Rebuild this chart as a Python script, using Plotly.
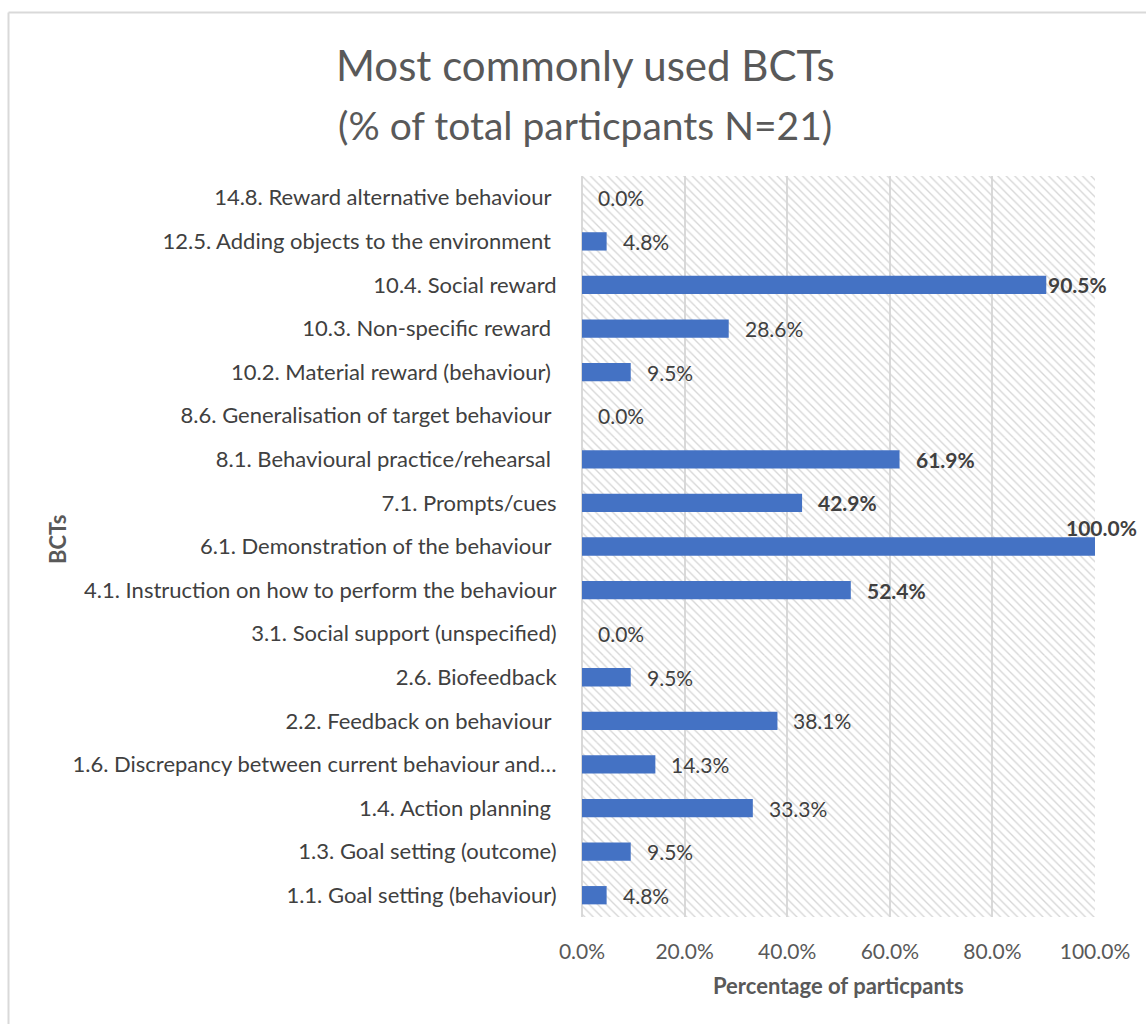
import plotly.graph_objects as go

NB = "\u00a0"
categories = [
    "14.8. Reward alternative behaviour" + NB,
    "12.5. Adding objects to the environment" + NB,
    "10.4. Social reward",
    "10.3. Non-specific reward" + NB,
    "10.2. Material reward (behaviour)" + NB,
    "8.6. Generalisation of target behaviour" + NB,
    "8.1. Behavioural practice/rehearsal" + NB,
    "7.1. Prompts/cues",
    "6.1. Demonstration of the behaviour" + NB,
    "4.1. Instruction on how to perform the behaviour",
    "3.1. Social support (unspecified)",
    "2.6. Biofeedback",
    "2.2. Feedback on behaviour" + NB,
    "1.6. Discrepancy between current behaviour and\u2026",
    "1.4. Action planning" + NB,
    "1.3. Goal setting (outcome)",
    "1.1. Goal setting (behaviour)",
]
values = [0.0, 4.8, 90.5, 28.6, 9.5, 0.0, 61.9, 42.9, 100.0, 52.4, 0.0, 9.5, 38.1, 14.3, 33.3, 9.5, 4.8]
bold_labels = [False, False, True, False, False, False, True, True, True, True, False, False, False, False, False, False, False]
x_ticks = [0, 20, 40, 60, 80, 100]
x_tick_labels = ["0.0%", "20.0%", "40.0%", "60.0%", "80.0%", "100.0%"]

FONT = "Lato"
W, H = 1146, 1024
L, R, T, B = 582, 1095, 176, 917

fig = go.Figure()

# hatched plot-area background
fig.add_trace(go.Bar(
    y=categories, x=[100] * len(categories), orientation="h", width=1,
    marker=dict(color="#d6d6d6", line=dict(width=0),
                pattern=dict(shape="\\", size=6, solidity=0.22, fillmode="replace")),
    hoverinfo="skip", showlegend=False,
))

fig.add_trace(go.Bar(
    y=categories, x=values, orientation="h", width=0.42,
    marker=dict(color="#4472C4", line=dict(width=0)),
    showlegend=False,
))

LBL = 21
annotations = []
for cat, v, b in zip(categories, values, bold_labels):
    txt = f"{v:.1f}%"
    if b:
        txt = f"<b>{txt}</b>"
    if v >= 100:
        annotations.append(dict(x=v, y=cat, xref="x", yref="y", text=txt, showarrow=False,
                                xanchor="center", yanchor="middle", xshift=6, yshift=19,
                                font=dict(family=FONT, size=LBL, color="#404040")))
    elif v > 85:
        annotations.append(dict(x=v, y=cat, xref="x", yref="y", text=txt, showarrow=False,
                                xanchor="left", yanchor="middle", xshift=0,
                                font=dict(family=FONT, size=LBL, color="#404040")))
    else:
        annotations.append(dict(x=v, y=cat, xref="x", yref="y", text=txt, showarrow=False,
                                xanchor="left", yanchor="middle", xshift=14,
                                font=dict(family=FONT, size=LBL, color="#404040")))

# title
annotations.append(dict(x=(585 - L) / (R - L), y=(B - 65) / (B - T), xref="paper", yref="paper",
                        text="Most commonly used BCTs", showarrow=False, xanchor="center", yanchor="middle",
                        font=dict(family=FONT, size=42, color="#595959")))
annotations.append(dict(x=(585 - L) / (R - L), y=(B - 125) / (B - T), xref="paper", yref="paper",
                        text="(% of total particpants N=21)", showarrow=False, xanchor="center", yanchor="middle",
                        font=dict(family=FONT, size=39, color="#595959")))
# axis titles
annotations.append(dict(x=(838 - L) / (R - L), y=(B - 985) / (B - T), xref="paper", yref="paper",
                        text="<b>Percentage of particpants</b>", showarrow=False, xanchor="center", yanchor="middle",
                        font=dict(family=FONT, size=22, color="#595959")))
annotations.append(dict(x=(57 - L) / (R - L), y=(B - 540) / (B - T), xref="paper", yref="paper",
                        text="<b>BCTs</b>", showarrow=False, xanchor="center", yanchor="middle", textangle=-90,
                        font=dict(family=FONT, size=22, color="#595959")))

shapes = [
    dict(type="line", xref="paper", yref="paper",
         x0=(8.5 - L) / (R - L), x1=(8.5 - L) / (R - L), y0=(B - 12.5) / (B - T), y1=(B - 1030) / (B - T),
         line=dict(color="#d9d9d9", width=2)),
    dict(type="line", xref="paper", yref="paper",
         x0=(8.5 - L) / (R - L), x1=(1150 - L) / (R - L), y0=(B - 12.5) / (B - T), y1=(B - 12.5) / (B - T),
         line=dict(color="#d9d9d9", width=2)),
]

fig.update_layout(
    width=W, height=H,
    margin=dict(l=L, r=W - R, t=T, b=H - B, autoexpand=False),
    barmode="overlay",
    paper_bgcolor="white", plot_bgcolor="white",
    annotations=annotations, shapes=shapes,
    font=dict(family=FONT),
    xaxis=dict(range=[0, 100], tickvals=x_ticks, ticktext=x_tick_labels,
               showgrid=True, gridcolor="#d9d9d9", gridwidth=2,
               zeroline=True, zerolinecolor="#d9d9d9", zerolinewidth=2,
               showline=False, ticks="outside", ticklen=16, tickcolor="rgba(0,0,0,0)",
               tickfont=dict(family=FONT, size=21, color="#595959"), fixedrange=True),
    yaxis=dict(autorange="reversed", showgrid=False, zeroline=False, showline=False,
               ticks="outside", ticklen=20, tickcolor="rgba(0,0,0,0)",
               tickfont=dict(family=FONT, size=22, color="#404040"), fixedrange=True),
)

fig.write_html("out.html")
